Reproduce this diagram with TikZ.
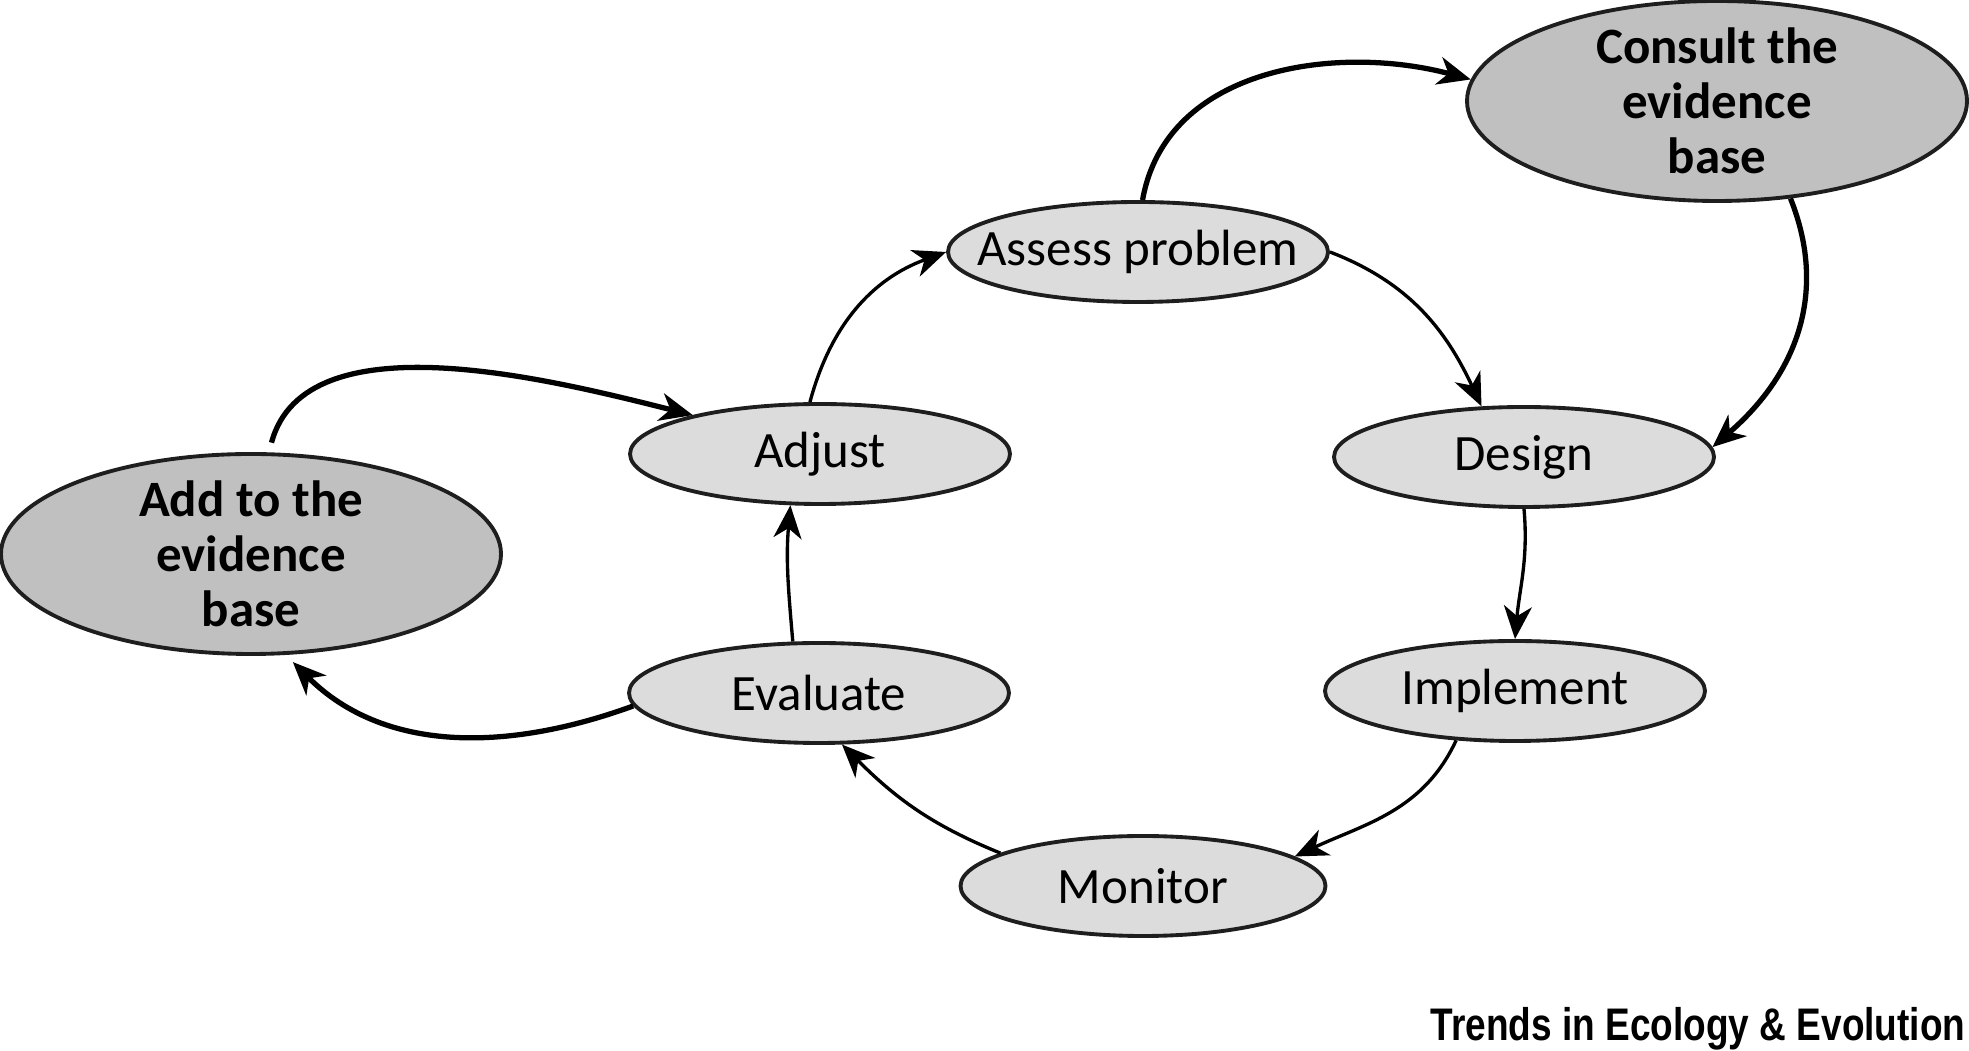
\documentclass[tikz,border=0pt]{standalone}
\usepackage{fontspec}
\setmainfont{Carlito}
\newfontfamily\creditfont{Liberation Sans}
\usetikzlibrary{arrows.meta,shapes.geometric}
\definecolor{stagegray}{HTML}{DCDCDC}
\definecolor{evidgray}{HTML}{C0C0C0}
\definecolor{rimgray}{HTML}{1E1E1E}

\begin{document}
\begin{tikzpicture}[>={Stealth[length=3.3mm,width=2.8mm,inset=1mm]},
  stage/.style={ellipse, draw=rimgray, line width=1.1pt, fill=stagegray, inner sep=-1cm, minimum width=3.8cm, minimum height=1cm, font=\fontsize{14.5}{15.6}\selectfont},
  evidence/.style={stage, fill=evidgray, minimum width=5cm, minimum height=2cm, align=center, font=\bfseries\fontsize{14.5}{15.6}\selectfont},
  flow/.style={->, line width=0.95pt},
  feed/.style={->, line width=1.5pt}]
  \useasboundingbox (0,0) rectangle (19.69,10.51);

  % management cycle
  \node[stage] (assess) at (11.38,7.99) {Assess problem};
  \node[stage] (design) at (15.24,5.94) {Design};
  \node[stage] (impl) at (15.15,3.60) {Implement};
  \node[stage, minimum width=3.65cm] (monitor) at (11.43,1.65) {Monitor};
  \node[stage] (eval) at (8.19,3.58) {Evaluate};
  \node[stage] (adjust) at (8.20,5.97) {Adjust};

  % evidence base
  \node[evidence] (consult) at (17.17,9.50) {Consult the\\evidence\\base};
  \node[evidence] (addev) at (2.51,4.97) {Add to the\\evidence\\base};

  \draw[flow] (assess.east) to[out=-21, in=115] (design.130);
  \draw[flow] (design.south) to[out=-85, in=85] (impl.north);
  \draw[flow] (impl.220) to[out=-115, in=25] (monitor.11);
  \draw[flow] (monitor.167) to[out=158, in=-45] (eval.-66);
  \draw[flow] (eval.117) to[out=95, in=-95] (adjust.240);
  \draw[flow] (adjust.101) to[out=75, in=200] (assess.west);

  \draw[feed] (assess.85) to[out=80, in=165] (consult.175);
  \draw[feed] (consult.-53) .. controls +(0.36,-0.9) and +(0.88,0.76) .. (design.3);
  \draw[feed, shorten >=1mm] (eval.184) to[out=200, in=-45] (addev.-71);
  \draw[feed, shorten <=1mm] (addev.80) to[out=75, in=166, looseness=0.85] (adjust.163);

  \node[anchor=base east, inner sep=0pt, font=\creditfont\bfseries\fontsize{13}{14}\selectfont] (credit) at (19.66,0.10) {\scalebox{0.81}[1]{Trends in Ecology \& Evolution}};
\end{tikzpicture}
\end{document}
